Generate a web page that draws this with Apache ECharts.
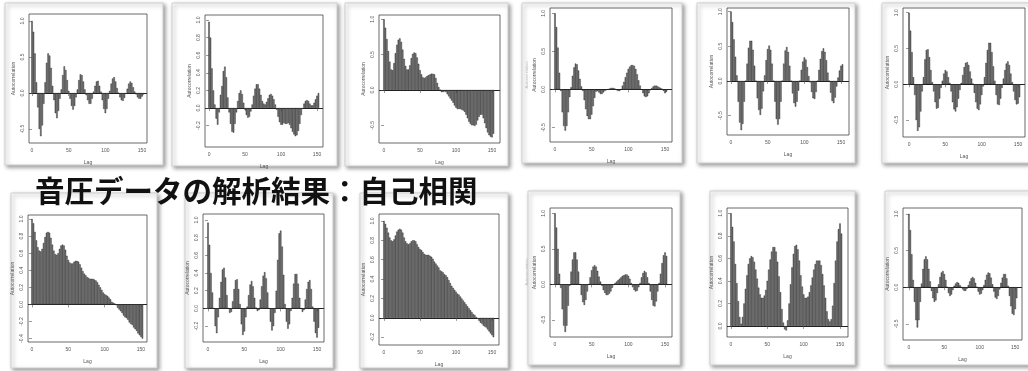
<!DOCTYPE html>
<html><head><meta charset="utf-8">
<script src="https://cdn.jsdelivr.net/npm/echarts@6/dist/echarts.min.js"></script>
<style>html,body{margin:0;padding:0;background:#fff;}#c{width:1028px;height:371px;}</style>
</head><body><div id="c"></div>
<script>
const TITLE = "音圧データの解析結果：自己相関";
const X_NAME = "Lag";
const Y_NAME = "Autocorrelation";
const LAG_TICKS = [0, 50, 100, 150];
const Y_TICKS_HALF = [-0.5, 0, 0.5, 1];
const Y_TICKS_P2 = [-0.2, 0, 0.2, 0.4, 0.6, 0.8, 1];
const Y_TICKS_P7 = [-0.4, -0.2, 0, 0.2, 0.4, 0.6, 0.8, 1];
const Y_TICKS_P11 = [0, 0.2, 0.4, 0.6, 0.8, 1];
const LAGS = [0,2,4,6,8,10,12,14,16,18,20,22,24,26,28,30,32,34,36,38,40,42,44,46,48,50,52,54,56,58,60,62,64,66,68,70,72,74,76,78,80,82,84,86,88,90,92,94,96,98,100,102,104,106,108,110,112,114,116,118,120,122,124,126,128,130,132,134,136,138,140,142,144,146,148,150,152];

const ACF1 = [1.00,0.85,0.55,0.15,-0.20,-0.50,-0.60,-0.45,-0.15,0.15,
0.42,0.55,0.52,0.35,0.10,-0.10,-0.28,-0.35,-0.25,-0.08,
0.05,0.25,0.37,0.32,0.18,0.03,-0.08,-0.18,-0.23,-0.18,
-0.06,0.05,0.18,0.26,0.25,0.16,0.05,-0.03,-0.10,-0.15,
-0.15,-0.08,0.02,0.10,0.16,0.17,0.10,0.02,-0.10,-0.22,
-0.28,-0.22,-0.08,0.03,0.13,0.20,0.22,0.16,0.07,0.00,
-0.06,-0.10,-0.11,-0.07,-0.01,0.06,0.13,0.16,0.14,0.08,
0.02,-0.02,-0.06,-0.08,-0.08,-0.05,-0.02];
const ACF2 = [0.98,0.80,0.45,0.20,0.04,-0.12,-0.19,-0.05,0.15,0.25,
0.42,0.47,0.35,0.12,-0.05,-0.18,-0.27,-0.28,-0.18,-0.05,
0.08,0.17,0.20,0.16,0.06,-0.02,-0.08,-0.11,-0.10,-0.04,
0.04,0.14,0.22,0.27,0.27,0.22,0.15,0.08,0.05,0.04,
0.07,0.11,0.15,0.16,0.14,0.10,0.04,-0.02,-0.10,-0.16,
-0.19,-0.19,-0.17,-0.18,-0.18,-0.17,-0.19,-0.23,-0.27,-0.30,
-0.32,-0.31,-0.26,-0.18,-0.08,-0.01,0.05,0.08,0.09,0.08,
0.05,0.03,0.03,0.06,0.10,0.14,0.17];
const ACF3 = [1.00,0.88,0.72,0.55,0.40,0.29,0.28,0.38,0.52,0.64,
0.71,0.73,0.68,0.57,0.44,0.34,0.29,0.29,0.35,0.45,
0.51,0.53,0.52,0.46,0.37,0.28,0.22,0.18,0.17,0.18,
0.20,0.21,0.22,0.23,0.23,0.22,0.17,0.10,0.04,0.00,
-0.03,-0.03,-0.02,-0.03,-0.06,-0.09,-0.12,-0.15,-0.18,-0.22,
-0.25,-0.27,-0.27,-0.27,-0.28,-0.29,-0.31,-0.35,-0.40,-0.45,
-0.48,-0.50,-0.50,-0.51,-0.49,-0.43,-0.38,-0.35,-0.35,-0.40,
-0.47,-0.54,-0.60,-0.64,-0.66,-0.67,-0.62];
const ACF4 = [1.00,0.82,0.55,0.22,-0.02,-0.30,-0.48,-0.54,-0.48,-0.30,
-0.10,0.03,0.18,0.29,0.34,0.33,0.25,0.14,0.04,-0.02,
-0.14,-0.26,-0.35,-0.39,-0.39,-0.33,-0.22,-0.11,-0.03,-0.02,
-0.04,-0.06,-0.06,-0.04,-0.02,-0.01,0.00,0.01,0.02,0.02,
0.02,0.01,-0.01,-0.02,-0.02,0.00,0.05,0.10,0.16,0.22,
0.27,0.30,0.32,0.32,0.31,0.27,0.20,0.12,0.05,0.00,
-0.05,-0.09,-0.10,-0.09,-0.05,-0.01,0.02,0.04,0.05,0.05,
0.04,0.03,0.02,0.01,-0.02,-0.05,-0.03];
const ACF5 = [1.00,0.85,0.60,0.35,0.08,-0.30,-0.60,-0.71,-0.62,-0.30,
0.00,0.25,0.48,0.58,0.58,0.45,0.22,0.00,-0.25,-0.42,
-0.49,-0.40,-0.15,0.08,0.30,0.46,0.51,0.45,0.25,0.00,
-0.30,-0.55,-0.63,-0.55,-0.30,0.00,0.25,0.44,0.49,0.42,
0.22,0.00,-0.18,-0.32,-0.37,-0.30,-0.14,0.00,0.16,0.28,
0.34,0.31,0.20,0.07,-0.02,-0.16,-0.25,-0.26,-0.16,0.00,
0.16,0.32,0.43,0.47,0.42,0.30,0.12,0.00,-0.17,-0.29,
-0.32,-0.24,-0.08,0.05,0.15,0.22,0.24];
const ACF6 = [1.00,0.75,0.45,0.10,-0.15,-0.50,-0.65,-0.60,-0.38,-0.10,
0.10,0.35,0.48,0.49,0.38,0.20,0.03,-0.10,-0.25,-0.34,
-0.33,-0.20,-0.05,0.05,0.15,0.20,0.18,0.10,0.02,-0.10,
-0.25,-0.35,-0.38,-0.32,-0.20,-0.08,0.02,0.13,0.24,0.30,
0.31,0.27,0.18,0.08,0.01,-0.12,-0.25,-0.34,-0.36,-0.28,
-0.15,-0.03,0.10,0.30,0.48,0.58,0.58,0.45,0.25,0.05,
-0.15,-0.28,-0.29,-0.20,-0.05,0.08,0.20,0.29,0.32,0.27,
0.15,0.03,-0.10,-0.22,-0.28,-0.27,-0.18];
const ACF7 = [1.00,0.95,0.85,0.75,0.67,0.63,0.62,0.65,0.72,0.79,
0.84,0.85,0.84,0.78,0.70,0.63,0.59,0.58,0.60,0.65,
0.69,0.70,0.69,0.64,0.57,0.52,0.49,0.48,0.48,0.50,
0.51,0.51,0.50,0.47,0.43,0.39,0.36,0.34,0.32,0.31,
0.30,0.30,0.30,0.29,0.28,0.26,0.23,0.20,0.17,0.14,
0.12,0.11,0.10,0.08,0.06,0.03,0.02,0.01,-0.01,-0.04,
-0.06,-0.08,-0.10,-0.13,-0.15,-0.16,-0.18,-0.21,-0.23,-0.24,
-0.27,-0.29,-0.31,-0.34,-0.36,-0.38,-0.40];
const ACF8 = [0.97,0.72,0.40,0.18,0.00,-0.20,-0.28,-0.10,0.12,0.30,
0.44,0.46,0.35,0.15,0.00,-0.05,-0.04,0.08,0.22,0.32,
0.33,0.22,0.05,-0.18,-0.30,-0.26,-0.10,0.02,0.15,0.27,
0.31,0.25,0.12,0.01,-0.03,-0.02,0.10,0.25,0.37,0.41,
0.34,0.18,0.00,-0.15,-0.25,-0.20,-0.05,0.20,0.55,0.85,
0.88,0.70,0.38,0.05,-0.15,-0.23,-0.18,-0.03,0.12,0.28,
0.39,0.39,0.28,0.12,0.00,-0.04,-0.02,0.10,0.22,0.30,
0.32,0.22,0.02,-0.15,-0.28,-0.33,-0.22];
const ACF9 = [1.00,0.97,0.93,0.88,0.83,0.80,0.79,0.81,0.85,0.89,
0.91,0.92,0.91,0.88,0.83,0.79,0.77,0.76,0.77,0.79,
0.80,0.80,0.79,0.76,0.73,0.71,0.70,0.68,0.66,0.65,
0.65,0.65,0.64,0.63,0.61,0.58,0.56,0.54,0.52,0.49,
0.48,0.47,0.45,0.44,0.42,0.39,0.36,0.33,0.31,0.29,
0.27,0.25,0.24,0.22,0.20,0.18,0.16,0.14,0.12,0.10,
0.08,0.06,0.04,0.03,0.01,-0.01,-0.03,-0.05,-0.06,-0.08,
-0.09,-0.10,-0.12,-0.14,-0.16,-0.18,-0.20];
const ACF10 = [1.00,0.80,0.50,0.15,-0.05,-0.35,-0.58,-0.67,-0.58,-0.30,
-0.02,0.18,0.35,0.45,0.45,0.35,0.18,0.00,-0.15,-0.25,
-0.29,-0.22,-0.10,0.00,0.10,0.20,0.25,0.27,0.25,0.19,
0.11,0.04,-0.02,-0.08,-0.12,-0.15,-0.15,-0.13,-0.10,-0.05,
-0.01,0.02,0.04,0.06,0.08,0.10,0.12,0.13,0.14,0.14,
0.12,0.08,0.02,-0.04,-0.08,-0.10,-0.09,-0.04,0.02,0.10,
0.16,0.19,0.17,0.10,0.02,-0.10,-0.22,-0.30,-0.31,-0.24,
-0.10,0.02,0.15,0.30,0.41,0.45,0.40];
const ACF11 = [1.00,0.88,0.75,0.55,0.38,0.22,0.08,0.02,0.08,0.20,
0.33,0.45,0.55,0.60,0.62,0.61,0.57,0.50,0.42,0.34,
0.28,0.25,0.25,0.27,0.32,0.40,0.50,0.59,0.66,0.70,
0.70,0.66,0.57,0.44,0.30,0.15,0.03,-0.03,-0.04,0.05,
0.20,0.37,0.52,0.64,0.71,0.72,0.68,0.58,0.45,0.35,
0.28,0.25,0.25,0.26,0.30,0.36,0.43,0.50,0.55,0.58,
0.58,0.58,0.54,0.46,0.36,0.25,0.13,0.06,0.04,0.06,
0.18,0.38,0.58,0.75,0.86,0.91,0.82];
const ACF12 = [1.00,0.78,0.45,0.10,-0.20,-0.45,-0.55,-0.45,-0.20,0.05,
0.25,0.38,0.42,0.38,0.25,0.08,-0.05,-0.15,-0.20,-0.18,
-0.08,0.04,0.14,0.20,0.22,0.18,0.10,0.00,-0.08,-0.12,
-0.10,-0.04,0.02,0.05,0.07,0.06,0.03,0.00,-0.03,-0.05,
-0.05,-0.02,0.03,0.08,0.12,0.14,0.12,0.06,0.00,-0.06,
-0.10,-0.09,-0.04,0.03,0.10,0.17,0.20,0.19,0.13,0.04,
-0.06,-0.14,-0.16,-0.12,-0.03,0.06,0.13,0.18,0.18,0.12,
0.02,-0.12,-0.26,-0.36,-0.38,-0.30,-0.15];

// layout: plot box [x1,y1,x2,y2], axis ranges, card rect
const PANELS = [
  {box:[29,14,147,143], xr:[-4.1,156.8], yr:[-0.694,1.097], yt:Y_TICKS_HALF, d:ACF1, card:[5,3,163,165]},
  {box:[205,15,323,147], xr:[-5.6,158.3], yr:[-0.443,1.057], yt:Y_TICKS_P2, d:ACF2, card:[172,3,337,166]},
  {box:[379,15,500,143], xr:[-6.9,161.1], yr:[-0.75,1.06], yt:Y_TICKS_HALF, d:ACF3, card:[345,3,508,166]},
  {box:[550,8,672,142], xr:[-6.8,159.5], yr:[-0.69,1.07], yt:Y_TICKS_HALF, d:ACF4, card:[522,3,682,163]},
  {box:[727,8,849,135], xr:[-5.45,160.9], yr:[-0.78,1.053], yt:Y_TICKS_HALF, d:ACF5, card:[697,3,855,163]},
  {box:[903,8,1025,137], xr:[-8.3,159.6], yr:[-0.736,1.066], yt:Y_TICKS_HALF, d:ACF6, card:[882,3,1032,163]},
  {box:[28,215,147,342], xr:[-5.5,158.3], yr:[-0.44,1.047], yt:Y_TICKS_P7, d:ACF7, card:[11,193,157,368]},
  {box:[203,214,324,342], xr:[-6.9,159.6], yr:[-0.38,1.068], yt:Y_TICKS_P2, d:ACF8, card:[185,193,333,368]},
  {box:[379,214,499,345], xr:[-6.9,159.7], yr:[-0.28,1.072], yt:Y_TICKS_P2, d:ACF9, card:[360,193,508,368]},
  {box:[550,208,672,337], xr:[-6.8,159.5], yr:[-0.74,1.075], yt:Y_TICKS_HALF, d:ACF10, card:[528,191,680,365]},
  {box:[727,208,848,337], xr:[-5.5,161], yr:[-0.098,1.047], yt:Y_TICKS_P11, d:ACF11, card:[710,191,855,365]},
  {box:[903,208,1022,340], xr:[-8.3,159.6], yr:[-0.72,1.08], yt:Y_TICKS_HALF, d:ACF12, card:[885,191,1032,365]}
];

const FONT = "Liberation Sans, Arial, sans-serif";
const grids = [], xAxes = [], yAxes = [], series = [], cards = [], texts = [];
PANELS.forEach((p, i) => {
  const [x1,y1,x2,y2] = p.box;
  const [cx1,cy1,cx2,cy2] = p.card;
  cards.push({type:'rect', shape:{x:cx1,y:cy1,width:cx2-cx1,height:cy2-cy1},
    style:{fill:'#fff', stroke:'#d0d0d0', lineWidth:1, shadowBlur:4, shadowColor:'rgba(0,0,0,0.4)', shadowOffsetX:2, shadowOffsetY:2}});
  grids.push({left:x1, top:y1, width:x2-x1, height:y2-y1, show:true, z:10, borderColor:'#444', borderWidth:0.8, backgroundColor:'rgba(0,0,0,0)', containLabel:false});
  xAxes.push({type:'value', gridIndex:i, min:p.xr[0], max:p.xr[1], z:10,
    name:X_NAME, nameLocation:'middle', nameGap:17, nameTextStyle:{fontSize:5, color:'#555', fontFamily:FONT},
    axisLine:{show:false}, splitLine:{show:false},
    axisTick:{show:true, length:3, customValues:LAG_TICKS, lineStyle:{color:'#555', width:0.6}},
    axisLabel:{show:true, customValues:LAG_TICKS, fontSize:5, color:'#555', margin:5, fontFamily:FONT}});
  yAxes.push({type:'value', gridIndex:i, min:p.yr[0], max:p.yr[1], z:10,
    name:Y_NAME, nameLocation:'middle', nameGap:13, nameRotate:90, nameTextStyle:{fontSize:5, color:'#555', fontFamily:FONT},
    axisLine:{show:false}, splitLine:{show:false},
    axisTick:{show:true, length:3, customValues:p.yt, lineStyle:{color:'#555', width:0.6}},
    axisLabel:{show:true, customValues:p.yt, rotate:90, fontSize:5, color:'#555', margin:4, fontFamily:FONT,
      formatter:v => Number(v).toFixed(1)}});
  series.push({type:'bar', xAxisIndex:i, yAxisIndex:i, barWidth:1.45, z:12,
    data:LAGS.map((l, k) => [l, p.d[k]]),
    itemStyle:{color:'#7c7c7c', borderColor:'#1a1a1a', borderWidth:0.4},
    markLine:{silent:true, symbol:'none', label:{show:false}, data:[{yAxis:0}],
      lineStyle:{color:'#222', width:1, type:'solid'}, animation:false}});
});
// faint ghost axis labels seen left of panels 4 and 10
texts.push({type:'text', rotation:Math.PI/2, x:527, y:75, style:{text:Y_NAME, fontSize:4, fill:'#bbb', align:'center', verticalAlign:'middle', fontFamily:FONT}});
texts.push({type:'text', rotation:Math.PI/2, x:527, y:272, style:{text:Y_NAME, fontSize:4, fill:'#bbb', align:'center', verticalAlign:'middle', fontFamily:FONT}});
texts.push({type:'text', x:35, y:191, style:{text:TITLE, fontSize:29.5, fontWeight:'bold', fill:'#111',
  fontFamily:'"Noto Sans CJK JP", sans-serif', verticalAlign:'middle'}});

const chart = echarts.init(document.getElementById('c'), null, {renderer:'canvas'});
chart.setOption({animation:false, backgroundColor:'#fff', grid:grids, xAxis:xAxes, yAxis:yAxes, series:series,
  graphic:[
    {type:'group', z:-100, zlevel:0, silent:true, children:cards},
    {type:'group', z:100, zlevel:0, silent:true, children:texts}
  ]});
</script></body></html>
